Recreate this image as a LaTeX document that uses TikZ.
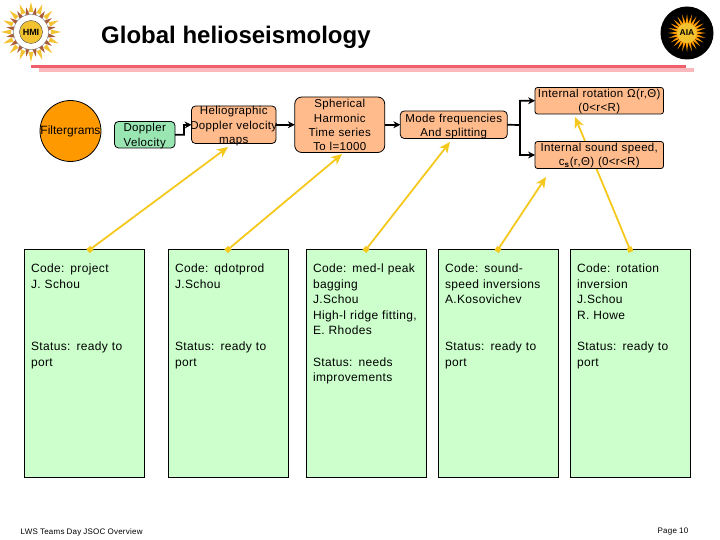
\documentclass[tikz,border=0pt]{standalone}
\usepackage{fontspec}
\setmainfont{Liberation Sans}[LetterSpace=3,WordSpace=0.85]
\newfontfamily\titlefont{Liberation Sans}
\usepackage{xcolor}
\definecolor{hmiorange}{HTML}{FF9900}
\definecolor{hmimint}{HTML}{99E6B3}
\definecolor{hmisalmon}{HTML}{FFBB8C}
\definecolor{hmigreen}{HTML}{CCFFCC}
\definecolor{hmiyellow}{HTML}{F5C81E}
\definecolor{hmired}{HTML}{F0606A}
\definecolor{hmipink}{HTML}{F8B8BC}
\definecolor{hmibrown}{HTML}{A85A3A}
\definecolor{hmisun}{HTML}{F2C230}
\usetikzlibrary{arrows.meta,positioning}

\begin{document}
\begin{tikzpicture}[
  x=1pt,y=-1pt,
  font=\fontsize{11.5}{14.3}\selectfont,
  flowbox/.style={draw=black,thick,rounded corners=4pt,fill=hmisalmon,
    align=center,inner sep=0pt,outer sep=0pt},
  codebox/.style={draw=black,thick,fill=hmigreen,align=left,anchor=north west,
    font=\fontsize{12}{15.6}\selectfont,outer sep=0pt,
    text width=107pt,inner xsep=6.5pt,inner ysep=0pt,text height=23pt,text depth=204.5pt},
  arr/.style={-{Stealth[length=2.4mm,width=2.4mm]},black,line width=1.7pt},
  link/.style={{Square[length=1.8mm,width=1.8mm]}-{Stealth[length=3.8mm,width=3.4mm,inset=1.1mm]},
    hmiyellow,line width=1.8pt,shorten <=-0.9mm},
  rulered/.style={line cap=butt}
]
\useasboundingbox (0,0) rectangle (720,540);
% HMI logo
\foreach \a in {0,22.5,...,337.5} {
  \fill[hmisun] ({31+30*cos(\a)},{32+30*sin(\a)}) -- ({31+20*cos(\a+7)},{32+20*sin(\a+7)}) -- ({31+20*cos(\a-7)},{32+20*sin(\a-7)}) -- cycle;
}
\foreach \a in {11.25,33.75,...,348.75} {
  \fill[hmibrown] ({31+25*cos(\a)},{32+25*sin(\a)}) -- ({31+16*cos(\a+9)},{32+16*sin(\a+9)}) -- ({31+16*cos(\a-9)},{32+16*sin(\a-9)}) -- cycle;
}
\node[circle,draw=gray,fill=white,line width=0.4pt,minimum size=35pt,inner sep=0pt] (hmiring) at (31,32) {};
\node[circle,fill=hmisun,draw=black!70,minimum size=23pt,inner sep=0pt,font=\fontsize{9}{9}\bfseries\titlefont] (hmilogo) at (31,32) {HMI};
% AIA logo
\node[circle,fill=black,minimum size=53pt,inner sep=0pt] (aiaring) at (687,33) {};
\foreach \a in {0,15,...,345} {
  \fill[hmiorange] ({687+19*cos(\a)},{33+19*sin(\a)}) -- ({687+9*cos(\a+9)},{33+9*sin(\a+9)}) -- ({687+9*cos(\a-9)},{33+9*sin(\a-9)}) -- cycle;
}
\node[circle,fill=hmisun,minimum size=20pt,inner sep=0pt,font=\fontsize{8.5}{9}\bfseries\titlefont] (aialogo) at (687,33) {AIA};
% title
\node[anchor=west,inner sep=0pt,font=\fontsize{24}{28}\bfseries\titlefont] (title) at (101,37.5) {Global helioseismology};
\coordinate (rulea) at (31,66.5);
\coordinate (ruleb) at (686,66.5);
\coordinate (rulec) at (39,70);
\coordinate (ruled) at (694,70);
\draw[rulered,hmipink,line width=4pt] (rulec) -- (ruled);
\draw[rulered,hmired,line width=3pt] (rulea) -- (ruleb);
% Code boxes
\node[codebox] (code1) at (24.5,249.5) {Code: project\\J. Schou\\~\\~\\~\\Status: ready to\\port};
\node[codebox,right=24pt of code1] (code2) {Code: qdotprod\\J.Schou\\~\\~\\~\\Status: ready to\\port};
\node[codebox,right=18pt of code2] (code3) {Code: med-l peak\\bagging\\J.Schou\\High-l ridge fitting,\\E. Rhodes\\~\\Status: needs\\improvements};
\node[codebox,right=12pt of code3] (code4) {Code: sound-\\speed inversions\\A.Kosovichev\\~\\~\\Status: ready to\\port};
\node[codebox,right=12pt of code4] (code5) {Code: rotation\\inversion\\J.Schou\\R. Howe\\~\\Status: ready to\\port};
% Links
\coordinate (tiphelio) at (228,147);
\coordinate (tipsph) at (342,154);
\coordinate (tipmode) at (450,142);
\coordinate (tipsnd) at (546,177);
\coordinate (tiprot) at (575,117);
\draw[link] ([xshift=5.5pt]code1.north) -- (tiphelio);
\draw[link] ([xshift=-0.5pt]code2.north) -- (tipsph);
\draw[link] ([xshift=-0.5pt]code3.north) -- (tipmode);
\draw[link] ([xshift=-0.5pt]code4.north) -- (tipsnd);
\draw[link] ([xshift=-0.5pt]code5.north) -- (tiprot);
% Pipeline
\node[circle,draw=black,thick,fill=hmiorange,minimum size=57pt,inner sep=0pt,font=\fontsize{12}{14}\titlefont] (filter) at (70.5,131) {Filtergrams};
\node[flowbox,fill=hmimint,text width=60.5pt,text height=10pt,text depth=16.5pt,anchor=north west,font=\fontsize{11.5}{15}\selectfont] (doppler) at (114.5,121.5) {Doppler\\Velocity};
\node[flowbox,text width=84.5pt,text height=9pt,text depth=28.5pt] (helio) at (233.75,124.75) {Heliographic\\\makebox[84.5pt]{Doppler velocity}\\maps};
\node[flowbox,rounded corners=7pt,text width=90pt,text height=11pt,text depth=44.5pt,right=18.75pt of helio] (sph) {Spherical\\Harmonic\\Time series\\To l=1000};
\node[flowbox,text width=107pt,text height=11.5pt,text depth=16pt,right=15.5pt of sph] (mode) {Mode frequencies\\And splitting};
\node[flowbox,rounded corners=2.5pt,text width=128.5pt,text height=10pt,text depth=16.5pt,anchor=north west] (rot) at (535,87.5) {Internal rotation Ω(r,Θ)\\(0<r<R)};
\node[flowbox,rounded corners=2.5pt,text width=128.5pt,text height=10pt,text depth=17pt,below=27.5pt of rot] (snd) {Internal sound speed,\\c\textsubscript{\textbf{s}}(r,Θ) (0<r<R)};
\coordinate (kink) at (184,125);
\coordinate (split) at (520,125);
\draw[arr] (doppler.east) -| (kink) -- (helio.west);
\draw[arr] (helio) -- (sph);
\draw[arr] (sph) -- (mode);
\draw[arr] (mode.east) -- (split) |- (rot.west);
\draw[arr] (split) |- (snd.west);
% footer
\node[anchor=west,inner sep=0pt,font=\fontsize{8}{9}\selectfont] (foot) at (20.5,532) {LWS Teams Day JSOC Overview};
\node[anchor=east,inner sep=0pt,font=\fontsize{8}{9}\selectfont] (page) at (688.5,532) {Page 10};
\end{tikzpicture}
\end{document}
